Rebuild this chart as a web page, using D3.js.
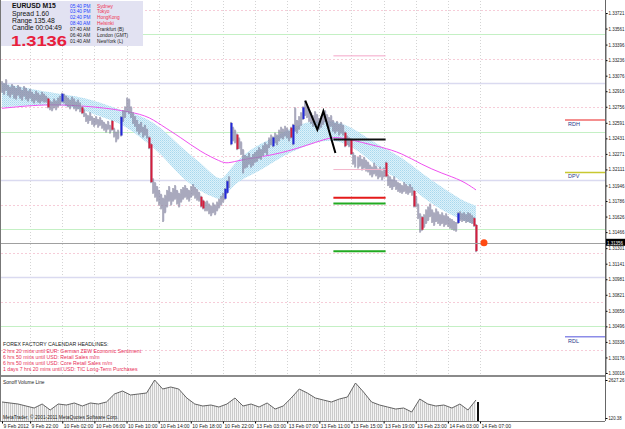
<!DOCTYPE html>
<html>
<head>
<meta charset="utf-8">
<script src="https://cdn.jsdelivr.net/npm/d3@7"></script>
<style>
  body { margin: 0; background: #fff; }
  svg { display: block; font-family: "Liberation Sans", Arial, sans-serif; }
</style>
</head>
<body>
<svg id="chart" width="625" height="429"></svg>
<script>
// EURUSD M15 bars (high / low)
const highs = [
  1.3302,1.3300,1.3304,1.3298,1.3296,1.3299,1.3297,1.3295,1.3298,1.3296,1.3293,1.3297,1.3295,1.3292,1.3294,
  1.3291,1.3289,1.3292,1.3290,1.3288,1.3291,1.3289,
  1.3287,1.3285,1.3282,
  1.3281,1.3284,1.3282,1.3285,1.3287,
  1.3290,1.3289,
  1.3287,1.3285,1.3283,1.3286,1.3284,1.3281,1.3283,1.3280,
  1.3276,1.3273,
  1.3269,1.3267,1.3270,1.3266,1.3264,1.3266,1.3263,1.3265,
  1.3262,1.3260,1.3258,1.3261,1.3257,1.3262,
  1.3254,1.3250,1.3252,
  1.3266,
  1.3272,1.3276,1.3285,1.3284,1.3276,
  1.3270,1.3266,
  1.3262,1.3258,1.3260,1.3255,1.3257,1.3253,
  1.3245,1.3238,
  1.3202,1.3198,1.3194,1.3190,1.3186,
  1.3182,1.3185,
  1.3190,1.3194,1.3188,1.3192,1.3195,1.3190,1.3187,1.3191,
  1.3193,1.3195,1.3192,1.3190,1.3194,1.3196,1.3193,1.3191,
  1.3188,1.3184,1.3180,1.3178,
  1.3179,1.3176,1.3174,1.3177,1.3175,
  1.3178,1.3181,1.3184,1.3187,
  1.3192,1.3200,1.3204,
  1.3260,1.3255,1.3252,1.3248,1.3244,1.3240,1.3232,1.3226,
  1.3225,1.3228,1.3224,1.3227,1.3229,1.3231,
  1.3234,1.3232,1.3236,1.3239,1.3237,
  1.3244,1.3247,1.3245,1.3249,1.3247,
  1.3252,1.3255,1.3253,1.3256,1.3254,1.3251,1.3255,
  1.3258,1.3275,1.3262,1.3266,1.3270,1.3276,1.3282,1.3277,1.3273,
  1.3270,1.3267,1.3271,1.3268,1.3264,1.3266,1.3269,1.3272,1.3268,1.3265,1.3267,
  1.3262,1.3259,1.3261,1.3258,1.3260,1.3257,
  1.3250,1.3246,1.3244,1.3243,
  1.3229,1.3226,1.3224,
  1.3226,1.3222,1.3224,1.3221,1.3219,
  1.3216,1.3214,1.3218,1.3215,1.3212,1.3214,1.3210,1.3213,
  1.3219,
  1.3206,1.3204,1.3201,1.3204,1.3200,1.3198,
  1.3197,1.3195,1.3198,1.3196,1.3194,1.3196,1.3193,
  1.3190,1.3184,
  1.3176,1.3166,1.3163,1.3165,
  1.3170,1.3173,1.3176,1.3170,1.3167,1.3171,1.3168,
  1.3165,1.3167,1.3164,1.3166,1.3163,1.3161,1.3160,
  1.3158,1.3157,
  1.3167,
  1.3168,1.3166,1.3167,1.3165,1.3167,1.3166,1.3164,
  1.3162,1.3155
];
const lows = [
  1.3290,1.3288,1.3292,1.3287,1.3285,1.3288,1.3284,1.3283,1.3287,1.3284,1.3282,1.3286,1.3283,1.3281,1.3284,
  1.3281,1.3279,1.3282,1.3280,1.3279,1.3281,1.3280,
  1.3280,1.3274,1.3272,
  1.3271,1.3274,1.3272,1.3275,1.3277,
  1.3280,1.3279,
  1.3277,1.3275,1.3273,1.3276,1.3273,1.3271,1.3273,1.3270,
  1.3268,1.3265,
  1.3260,1.3258,1.3261,1.3257,1.3255,1.3257,1.3254,1.3256,
  1.3253,1.3251,1.3249,1.3252,1.3248,1.3251,
  1.3244,1.3239,1.3242,
  1.3245,
  1.3260,1.3264,1.3270,1.3268,1.3264,
  1.3258,1.3255,
  1.3250,1.3247,1.3249,1.3244,1.3246,1.3243,
  1.3232,1.3197,
  1.3186,1.3182,1.3178,1.3174,1.3170,
  1.3157,1.3166,
  1.3172,1.3178,1.3174,1.3178,1.3180,1.3175,1.3172,1.3177,
  1.3180,1.3182,1.3180,1.3178,1.3182,1.3184,1.3181,1.3179,
  1.3178,1.3172,1.3170,1.3168,
  1.3168,1.3165,1.3163,1.3166,1.3164,
  1.3168,1.3171,1.3174,1.3177,
  1.3180,1.3186,1.3192,
  1.3236,1.3240,1.3238,1.3231,1.3232,1.3226,1.3207,1.3212,
  1.3213,1.3216,1.3213,1.3215,1.3218,1.3219,
  1.3222,1.3221,1.3225,1.3228,1.3226,
  1.3233,1.3236,1.3234,1.3238,1.3236,
  1.3240,1.3243,1.3242,1.3245,1.3243,1.3240,1.3243,
  1.3236,1.3250,1.3248,1.3252,1.3256,1.3262,1.3266,1.3264,1.3260,
  1.3258,1.3255,1.3259,1.3256,1.3252,1.3254,1.3257,1.3260,1.3256,1.3253,1.3255,
  1.3250,1.3248,1.3250,1.3246,1.3248,1.3246,
  1.3234,1.3236,1.3234,1.3226,
  1.3216,1.3213,1.3212,
  1.3214,1.3210,1.3212,1.3209,1.3208,
  1.3205,1.3203,1.3206,1.3204,1.3201,1.3203,1.3200,1.3203,
  1.3203,
  1.3194,1.3192,1.3190,1.3193,1.3190,1.3188,
  1.3187,1.3186,1.3188,1.3186,1.3185,1.3187,1.3184,
  1.3172,1.3172,
  1.3160,1.3146,1.3148,1.3151,
  1.3155,1.3158,1.3162,1.3156,1.3153,1.3157,1.3155,
  1.3153,1.3155,1.3152,1.3154,1.3152,1.3150,1.3149,
  1.3148,1.3147,
  1.3155,
  1.3158,1.3157,1.3158,1.3156,1.3157,1.3156,1.3155,
  1.3152,1.3126
];
const redBars = [23, 40, 55, 73, 74, 99, 100, 117, 144, 171, 174, 191, 205, 209, 235, 236];
const blueBars = [30, 59, 111, 112, 114, 135, 145, 150, 227];

// channel (light blue) and slow average (magenta)
const bandBars  = [0, 24, 39, 49, 59, 69, 79, 89, 99, 106, 110, 114, 121, 129, 139, 149, 159, 169, 179, 189, 199, 209, 219, 229, 236];
const bandUpper = [1.3300,1.3290,1.3286,1.3280,1.3272,1.3267,1.3255,1.3234,1.3218,1.3203,1.3200,1.3213,1.3228,1.3238,1.3248,1.3259,1.3262,1.3260,1.3248,1.3234,1.3224,1.3207,1.3193,1.3179,1.3174];
const bandLower = [1.3275,1.3279,1.3274,1.3265,1.3259,1.3244,1.3228,1.3203,1.3188,1.3182,1.3179,1.3193,1.3203,1.3210,1.3224,1.3234,1.3241,1.3241,1.3228,1.3210,1.3200,1.3183,1.3169,1.3159,1.3154];
const maBars  = [0, 24, 49, 59, 72, 79, 89, 99, 109, 112, 119, 129, 139, 149, 159, 164, 169, 179, 189, 199, 209, 219, 229, 236];
const maValue = [1.3274,1.3279,1.3275,1.3272,1.3267,1.3257,1.3244,1.3229,1.3219,1.3217,1.3221,1.3224,1.3228,1.3234,1.3241,1.3244,1.3244,1.3239,1.3234,1.3228,1.3216,1.3207,1.3200,1.3190];

// zigzag
const zzBars  = [151, 157, 160, 166];
const zzPrice = [1.3282, 1.3252, 1.3271, 1.3228];

// short level lines
const levelFrom = 165, levelTo = 191;
const levelPrice = [1.3328, 1.3242, 1.3211, 1.3182, 1.3176, 1.3127];
const levelColor = ["#f4a6c8", "#111111", "#f4b6cc", "#e41a1a", "#22aa22", "#22aa22"];
const levelWidth = [1, 2, 1, 2, 2, 2];

// daily levels at right edge
const dayNames  = ["RDH", "DPV", "RDL"];
const dayPrice  = [1.3262, 1.3208, 1.3039];
const dayColor  = ["#f06a6a", "#c8c830", "#8c8ce8"];

// quarter levels
const quarterLevels = [1.3375,1.3350,1.3325,1.3300,1.3275,1.3250,1.3225,1.3200,1.3175,1.3150,1.3125,1.3100,1.3075,1.3050,1.3025];

const lastPrice = 1.31356;

// price axis
const priceTicks = [1.33721,1.33561,1.33396,1.33236,1.33076,1.32916,1.32756,1.32591,1.32431,1.32271,1.32111,1.31946,1.31786,1.31626,1.31466,1.31301,1.31141,1.30981,1.30821,1.30656,1.30496,1.30336,1.30176,1.30016];

// time axis
const timeLabels = ["9 Feb 2012","9 Feb 22:00","10 Feb 02:00","10 Feb 06:00","10 Feb 10:00","10 Feb 14:00","10 Feb 18:00","10 Feb 22:00","13 Feb 03:00","13 Feb 07:00","13 Feb 11:00","13 Feb 15:00","13 Feb 19:00","13 Feb 23:00","14 Feb 03:00","14 Feb 07:00"];
const timeBars = [0,14,30,46,62,78,94,110,126,142,158,174,190,206,222,238];

// volume line (one value every 4 bars)
const volStep = 4;
const volumes = [1176,1110,1044,912,780,1044,648,1044,978,1110,912,1110,1044,1176,1704,1901,1638,1704,1770,2627,2033,2165,2033,1440,1044,912,978,846,1044,1440,912,1044,846,1110,714,912,1440,2033,1770,1440,1308,1176,1374,1506,2429,1836,1176,978,846,714,780,516,1374,1044,912,978,780,1044,648,1308];
const lastVolume = 1176;
const volTicks = [2627.26, 120.38];

// info panel
const sessionTimes = ["05:40 PM","03:40 PM","02:40 PM","08:40 AM","07:40 AM","06:40 AM","01:40 AM"];
const sessionCities = ["Sydney","Tokyo","HongKong","Helsinki","Frankfurt (B)","London (GMT)","NewYork (L)"];
const headlines = [
  "2 hrs 20 mins until EUR: German ZEW Economic Sentiment",
  "6 hrs 50 mins until USD: Retail Sales m/m",
  "6 hrs 50 mins until USD: Core Retail Sales m/m",
  "1 days 7 hrs 20 mins until USD: TIC Long-Term Purchases"
];

const svg = d3.select('#chart');
const plotRight = 605, mainBottom = 375, volBottom = 421;

const x = d3.scaleLinear().domain([0, highs.length - 1]).range([2, 476]);
const y = d3.scaleLinear().domain([1.30016, 1.33721]).range([373, 13]);
const yv = d3.scaleLinear().domain([120.38, 2627.26]).range([418, 380]);

const defs = svg.append('defs');
const band = defs.append('pattern').attr('id', 'bandFill')
  .attr('width', 2).attr('height', 2).attr('patternUnits', 'userSpaceOnUse');
band.append('rect').attr('width', 2).attr('height', 2).attr('fill', '#dcf1fa');
band.append('rect').attr('width', 1).attr('height', 1).attr('fill', '#a8d8ee');
band.append('rect').attr('x', 1).attr('y', 1).attr('width', 1).attr('height', 1).attr('fill', '#bfe2f2');

const hatch = defs.append('pattern').attr('id', 'volFill')
  .attr('width', 2).attr('height', 2).attr('patternUnits', 'userSpaceOnUse');
hatch.append('rect').attr('width', 2).attr('height', 2).attr('fill', '#f3f3f3');
hatch.append('rect').attr('width', 1).attr('height', 2).attr('fill', '#cacaca');

defs.append('clipPath').attr('id', 'mainClip')
  .append('rect').attr('x', 1).attr('y', 1).attr('width', plotRight - 1).attr('height', mainBottom - 1);

const main = svg.append('g').attr('clip-path', 'url(#mainClip)');

// vertical dotted grid
main.append('g').selectAll('line').data(timeBars.slice(1)).join('line')
  .attr('x1', d => Math.round(x(d)) + 0.5).attr('x2', d => Math.round(x(d)) + 0.5)
  .attr('y1', 1).attr('y2', mainBottom)
  .attr('stroke', '#d4d4d4').attr('stroke-dasharray', '1,2');

// quarter levels
const qKind = d => Math.round(d * 10000) % 100;
main.append('g').selectAll('line').data(quarterLevels).join('line')
  .attr('x1', 1).attr('x2', plotRight)
  .attr('y1', d => Math.round(y(d)) + 0.5).attr('y2', d => Math.round(y(d)) + 0.5)
  .attr('stroke', d => qKind(d) === 50 ? '#c4f0c4' : qKind(d) === 0 ? '#dadaf0' : '#f6ccd8')
  .attr('stroke-width', d => qKind(d) === 0 ? 1.5 : 1)
  .attr('stroke-dasharray', d => (qKind(d) === 50 || qKind(d) === 0) ? null : '2,2');

// channel
const bandPts = bandBars.map((b, i) => ({ b, hi: bandUpper[i], lo: bandLower[i] }));
main.append('path').datum(bandPts)
  .attr('fill', 'url(#bandFill)')
  .attr('d', d3.area().curve(d3.curveBasis)
    .x(d => x(d.b)).y0(d => y(d.lo)).y1(d => y(d.hi)));

// magenta average
main.append('path').datum(maBars.map((b, i) => [b, maValue[i]]))
  .attr('fill', 'none').attr('stroke', '#f050f0').attr('stroke-width', 1)
  .attr('d', d3.line().curve(d3.curveBasis).x(d => x(d[0])).y(d => y(d[1])));

// price bars
const bars = highs.map((h, i) => ({ i, h, l: lows[i] }));
main.append('g').selectAll('rect').data(bars).join('rect')
  .attr('x', d => Math.round(x(d.i)) + 0.5).attr('width', 1)
  .attr('y', d => y(d.h) + 1).attr('height', d => Math.max(1, y(d.l) - y(d.h) - 2))
  .attr('fill', '#d2d2e6');
main.append('g').selectAll('rect').data(bars).join('rect')
  .attr('x', d => Math.round(x(d.i)) - 0.5).attr('width', 1)
  .attr('y', d => y(d.h)).attr('height', d => Math.max(1, y(d.l) - y(d.h)))
  .attr('fill', '#6a6a88');

main.append('g').selectAll('rect').data(bars.filter(d => redBars.includes(d.i))).join('rect')
  .attr('x', d => Math.round(x(d.i)) - 0.5).attr('width', 2)
  .attr('y', d => y(d.h) + 1).attr('height', d => Math.max(1, y(d.l) - y(d.h) - 2))
  .attr('fill', '#d41e3c');
main.append('g').selectAll('rect').data(bars.filter(d => blueBars.includes(d.i))).join('rect')
  .attr('x', d => Math.round(x(d.i)) - 0.5).attr('width', 2)
  .attr('y', d => y(d.h) + 1).attr('height', d => Math.max(1, y(d.l) - y(d.h) - 2))
  .attr('fill', '#2228d8');

// zigzag
main.append('path').datum(zzBars.map((b, i) => [b, zzPrice[i]]))
  .attr('fill', 'none').attr('stroke', '#000').attr('stroke-width', 2)
  .attr('d', d3.line().x(d => x(d[0])).y(d => y(d[1])));

// level segments
main.append('g').selectAll('line').data(levelPrice).join('line')
  .attr('x1', x(levelFrom)).attr('x2', x(levelTo))
  .attr('y1', d => y(d)).attr('y2', d => y(d))
  .attr('stroke', (d, i) => levelColor[i]).attr('stroke-width', (d, i) => levelWidth[i]);

// bid line
main.append('line')
  .attr('x1', 1).attr('x2', plotRight)
  .attr('y1', Math.round(y(lastPrice)) + 0.5).attr('y2', Math.round(y(lastPrice)) + 0.5)
  .attr('stroke', '#a0a0a0');
main.append('circle')
  .attr('cx', x(highs.length - 1) + 8).attr('cy', y(lastPrice)).attr('r', 3.5)
  .attr('fill', '#ff4a12');

// daily levels
dayNames.forEach((n, i) => {
  main.append('line').attr('x1', 565).attr('x2', plotRight)
    .attr('y1', y(dayPrice[i])).attr('y2', y(dayPrice[i]))
    .attr('stroke', dayColor[i]).attr('stroke-width', 1.5);
  main.append('text').attr('x', 568).attr('y', y(dayPrice[i]) + 6)
    .attr('font-size', 5.5).attr('fill', '#2a3a8a').text(n);
});

// info panel
svg.append('rect').attr('x', 1).attr('y', 1).attr('width', 142).attr('height', 45).attr('fill', '#e2e2f2');
const info = svg.append('g').attr('font-size', 6.8).attr('fill', '#111');
info.append('text').attr('x', 12).attr('y', 8).attr('font-weight', 'bold').text('EURUSD   M15');
info.append('text').attr('x', 12).attr('y', 16).text('Spread  1.60');
info.append('text').attr('x', 12).attr('y', 23).text('Range  135.48');
info.append('text').attr('x', 12).attr('y', 30).text('Candle  00:04:49');
info.append('text').attr('x', 11).attr('y', 45.5).attr('font-size', 15.5).attr('font-weight', 'bold')
  .attr('textLength', 56).attr('lengthAdjust', 'spacingAndGlyphs')
  .attr('fill', '#e8203c').text('1.3136');
const sess = svg.append('g').attr('font-size', 4.8);
sess.selectAll('text.t').data(sessionTimes).join('text').attr('class', 't')
  .attr('x', 70).attr('y', (d, i) => 7.5 + i * 5.9)
  .attr('fill', (d, i) => i < 4 ? '#2244ff' : '#222').text(d => d);
sess.selectAll('text.c').data(sessionCities).join('text').attr('class', 'c')
  .attr('x', 97).attr('y', (d, i) => 7.5 + i * 5.9)
  .attr('fill', (d, i) => i < 4 ? '#f03050' : '#222').text(d => d);

// headlines
const hl = svg.append('g').attr('font-size', 5.2);
hl.append('text').attr('x', 3).attr('y', 346).attr('fill', '#222').text('FOREX FACTORY CALENDAR HEADLINES:');
hl.selectAll('text.h').data(headlines).join('text').attr('class', 'h')
  .attr('x', 3).attr('y', (d, i) => 353 + i * 6).attr('fill', '#e83058').text(d => d);

// pane separator
svg.append('rect').attr('x', 1).attr('y', mainBottom).attr('width', plotRight - 1).attr('height', 2).attr('fill', '#8a8a8a');

// volume pane
const volPts = volumes.map((v, k) => [k * volStep, v]);
svg.append('path').datum(volPts)
  .attr('fill', 'url(#volFill)')
  .attr('d', d3.area().x(d => x(d[0])).y0(volBottom).y1(d => yv(d[1])));
svg.append('path').datum(volPts)
  .attr('fill', 'none').attr('stroke', '#555').attr('stroke-width', 0.9)
  .attr('d', d3.line().x(d => x(d[0])).y(d => yv(d[1])));
svg.append('rect').attr('x', x(highs.length - 1) + 1).attr('width', 2)
  .attr('y', yv(lastVolume)).attr('height', volBottom - yv(lastVolume)).attr('fill', '#111');
svg.append('text').attr('x', 3).attr('y', 384).attr('font-size', 4.8).attr('fill', '#222').text('Sonoff Volume Line');
svg.append('text').attr('x', 3).attr('y', 419).attr('font-size', 4.8).attr('fill', '#222')
  .text('MetaTrader, \u00a9 2001-2011 MetaQuotes Software Corp.');

// frame
svg.append('line').attr('x1', 0.5).attr('x2', 0.5).attr('y1', 0).attr('y2', volBottom).attr('stroke', '#777');
svg.append('line').attr('x1', 0).attr('x2', plotRight).attr('y1', volBottom + 0.5).attr('y2', volBottom + 0.5).attr('stroke', '#777');

// price axis
const yAxis = svg.append('g').attr('transform', `translate(${plotRight + 0.5},0)`)
  .call(d3.axisRight(y).tickValues(priceTicks).tickFormat(d3.format('.5f')).tickSize(2).tickPadding(1));
yAxis.select('.domain').attr('stroke', '#666');
yAxis.selectAll('text').attr('font-size', 4.8).attr('fill', '#222')
  .attr('textLength', 16).attr('lengthAdjust', 'spacingAndGlyphs')
  .attr('font-family', '"Liberation Sans", Arial');
yAxis.append('line').attr('x1', 0).attr('x2', 0).attr('y1', 0).attr('y2', volBottom).attr('stroke', '#666');

// bid label
svg.append('rect').attr('x', plotRight + 1).attr('y', y(lastPrice) - 4).attr('width', 19).attr('height', 7).attr('fill', '#000');
svg.append('text').attr('x', plotRight + 2).attr('y', y(lastPrice) + 1.8).attr('font-size', 4.8).attr('fill', '#fff')
  .attr('textLength', 16).attr('lengthAdjust', 'spacingAndGlyphs')
  .text(d3.format('.5f')(lastPrice));

// volume axis
const vAxis = svg.append('g').attr('transform', `translate(${plotRight + 0.5},0)`)
  .call(d3.axisRight(yv).tickValues(volTicks).tickFormat(d3.format('.2f')).tickSize(2).tickPadding(1));
vAxis.select('.domain').remove();
vAxis.selectAll('text').attr('font-size', 4.8).attr('fill', '#222')
  .attr('textLength', (d, i) => i === 0 ? 16 : 13).attr('lengthAdjust', 'spacingAndGlyphs')
  .attr('font-family', '"Liberation Sans", Arial');

// time axis
const xAxis = svg.append('g').attr('transform', `translate(0,${volBottom + 0.5})`)
  .call(d3.axisBottom(x).tickValues(timeBars).tickFormat((d, i) => timeLabels[i]).tickSize(2).tickPadding(1));
xAxis.select('.domain').remove();
xAxis.selectAll('text').attr('font-size', 5).attr('fill', '#222').attr('text-anchor', 'start')
  .attr('dx', 1).attr('font-family', '"Liberation Sans", Arial');
</script>
</body>
</html>
